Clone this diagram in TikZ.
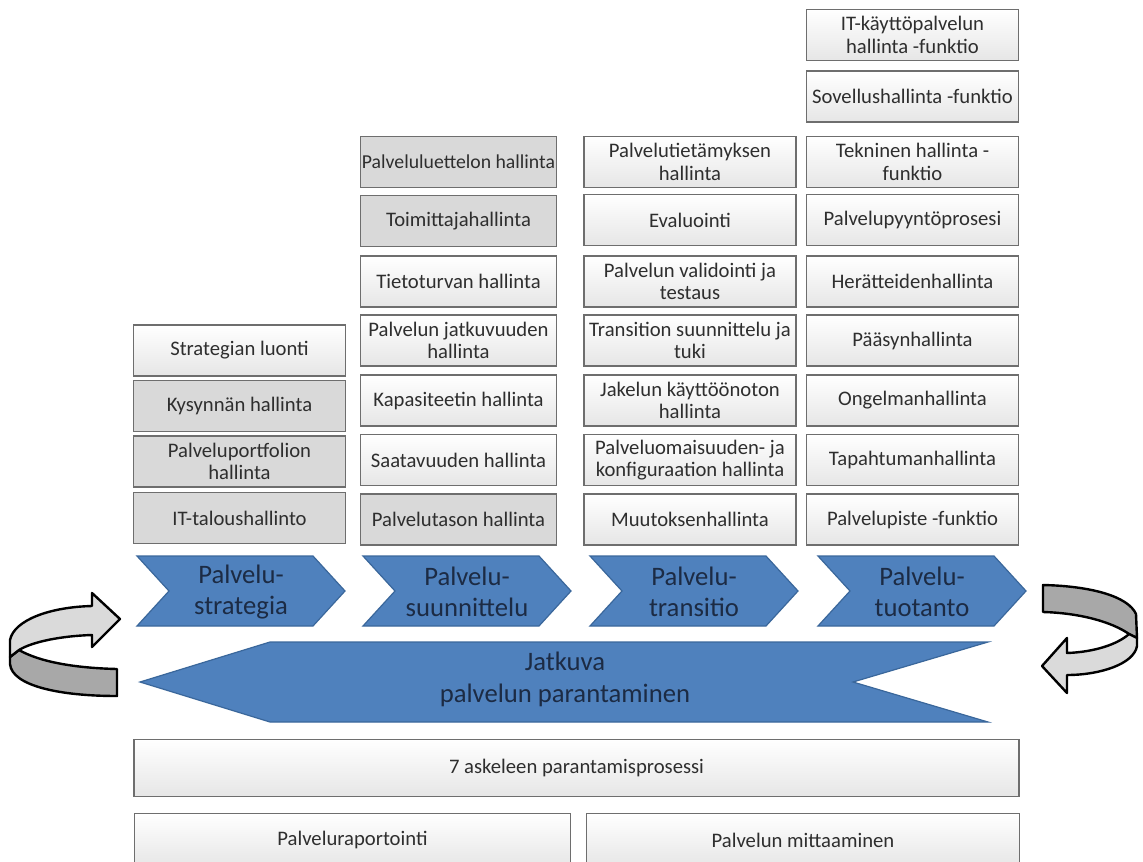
\documentclass[tikz,border=0pt]{standalone}
\usepackage{fontspec}
\setmainfont{Carlito}
\definecolor{boxline}{HTML}{6E6E6E}
\definecolor{boxtext}{HTML}{2E2E2E}
\definecolor{boxbot}{HTML}{E6E6E6}
\definecolor{greyfill}{HTML}{D9D9D9}
\definecolor{chevfill}{HTML}{4F81BD}
\definecolor{chevline}{HTML}{3A679B}
\definecolor{chevtext}{HTML}{1C2B44}
\definecolor{ribbonlight}{HTML}{DADADA}
\definecolor{ribbondark}{HTML}{A8A8A8}
\begin{document}
\begin{tikzpicture}[x=0.75pt,y=-0.75pt,
  cell/.style={draw=boxline, line width=0.9pt, align=center, text=boxtext,
    font=\fontsize{15.5}{16.8}\selectfont, inner sep=0pt, minimum height=38.25pt},
  plaincell/.style={cell, top color=white, bottom color=boxbot},
  greycell/.style={cell, fill=greyfill},
  colA/.style={minimum width=158.5pt},
  colB/.style={minimum width=147pt},
  colC/.style={minimum width=159pt},
  colD/.style={minimum width=158.5pt},
  chevron/.style={fill=chevfill, draw=chevline, line width=0.9pt},
  chevlabel/.style={align=center, text=chevtext, font=\fontsize{20}{23}\selectfont, inner sep=0pt},
  ribbon/.style={draw=black, line width=1.8pt, line join=round}]
\useasboundingbox (0,0) rectangle (1143,861);
\clip (0,0) rectangle (1143,861);

% ---- Palvelustrategia column
\node[plaincell,colA] (a1) at (239.5,350.5) {Strategian luonti};
\node[greycell,colA] (a2) at (239.5,406) {Kysynnän hallinta};
\node[greycell,colA] (a3) at (239.5,461.5) {Palveluportfolion\\hallinta};
\node[greycell,colA] (a4) at (239.5,518) {IT-taloushallinto};

% ---- Palvelusuunnittelu column
\node[greycell,colB,font=\fontsize{14.8}{16.8}\selectfont] (b1) at (458.5,162) {Palveluluettelon hallinta};
\node[greycell,colB] (b2) at (458.5,221) {Toimittajahallinta};
\node[plaincell,colB] (b3) at (458.5,281.5) {Tietoturvan hallinta};
\node[plaincell,colB] (b4) at (458.5,340.5) {Palvelun jatkuvuuden\\hallinta};
\node[plaincell,colB] (b5) at (458.5,400.5) {Kapasiteetin hallinta};
\node[plaincell,colB] (b6) at (458.5,460) {Saatavuuden hallinta};
\node[greycell,colB] (b7) at (458.5,519.5) {Palvelutason hallinta};

% ---- Palvelutransitio column
\node[plaincell,colC] (c1) at (690,162) {Palvelutietämyksen\\hallinta};
\node[plaincell,colC] (c2) at (690,220) {Evaluointi};
\node[plaincell,colC] (c3) at (690,281.5) {Palvelun validointi ja\\testaus};
\node[plaincell,colC] (c4) at (690,340.5) {Transition suunnittelu ja\\tuki};
\node[plaincell,colC] (c5) at (690,400.5) {Jakelun käyttöönoton\\hallinta};
\node[plaincell,colC] (c6) at (690,460) {Palveluomaisuuden- ja\\konfiguraation hallinta};
\node[plaincell,colC] (c7) at (690,519.5) {Muutoksenhallinta};

% ---- Palvelutuotanto column
\node[plaincell,colD] (d1) at (912.5,35) {IT-käyttöpalvelun\\hallinta -funktio};
\node[plaincell,colD] (d2) at (912.5,96.5) {Sovellushallinta -funktio};
\node[plaincell,colD] (d3) at (912.5,162) {Tekninen hallinta -\\funktio};
\node[plaincell,colD] (d4) at (912.5,220) {Palvelupyyntöprosesi};
\node[plaincell,colD] (d5) at (912.5,281.5) {Herätteidenhallinta};
\node[plaincell,colD] (d6) at (912.5,340.5) {Pääsynhallinta};
\node[plaincell,colD] (d7) at (912.5,400.5) {Ongelmanhallinta};
\node[plaincell,colD] (d8) at (912.5,460) {Tapahtumanhallinta};
\node[plaincell,colD] (d9) at (912.5,519.5) {Palvelupiste -funktio};

% ---- lifecycle chevrons
\foreach \L/\name/\txt in {137/ps/{Palvelu-\\strategia},
                           363/pu/{Palvelu-\\suunnittelu},
                           590/pt/{Palvelu-\\transitio},
                           818/po/{Palvelu-\\tuotanto}}{
  \path[chevron] (\L,556) -- (\L+176,556) -- (\L+208,591) -- (\L+176,626)
     -- (\L,626) -- (\L+32,591) -- cycle;
  \node[chevlabel] (\name) at (\L+104,592) {\txt};
}

% ---- continual improvement arrow
\path[chevron] (140,682) -- (270,642) -- (988,642) -- (853,682) -- (988,722)
   -- (270,722) -- cycle;
\node[chevlabel, font=\fontsize{20}{24}\selectfont] (jp) at (565,679)
   {Jatkuva\\palvelun parantaminen};

% ---- left twisted ribbon arrow
\path[ribbon, fill=ribbondark] (19,650) .. controls (40,662) and (75,668) .. (117,669)
   -- (117,696) .. controls (60,696) and (12,686) .. (10,664) -- (10,657) -- cycle;
\path[ribbon, fill=ribbonlight] (92,606) -- (92,593) -- (120,619) -- (92,647) -- (92,635)
   .. controls (60,636) and (32,642) .. (19,650) -- (10,657) -- (10,640)
   .. controls (14,620) and (50,607) .. cycle;

% ---- right twisted ribbon arrow
\path[ribbon, fill=ribbondark] (1043,585) .. controls (1090,586) and (1128,596) .. (1136,614)
   -- (1137,638) -- (1129,634) .. controls (1112,622) and (1080,613) .. (1043,612) -- cycle;
\path[ribbon, fill=ribbonlight] (1129,634) -- (1137,638) -- (1137,646)
   .. controls (1134,664) and (1100,675) .. (1067,675) -- (1067,693) -- (1042,666)
   -- (1067,638) -- (1067,653) .. controls (1095,652) and (1118,644) .. cycle;

% ---- improvement process boxes
\node[plaincell, minimum width=663.75pt, minimum height=43pt] (s7) at (576.5,768)
   {7 askeleen parantamisprosessi};
\node[plaincell, minimum width=327pt, minimum height=40pt] (rep) at (352.5,840)
   {Palveluraportointi};
\node[plaincell, minimum width=324.5pt, minimum height=40pt] (mit) at (803,840)
   {Palvelun mittaaminen};
\end{tikzpicture}
\end{document}
